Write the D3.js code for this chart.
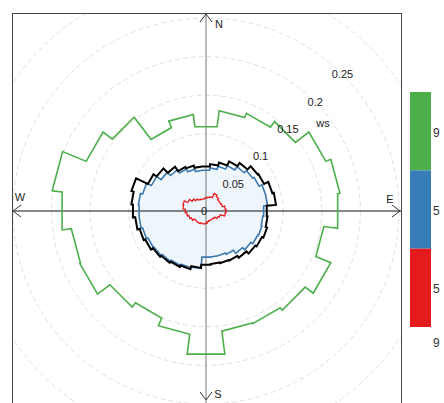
<!DOCTYPE html>
<html>
<head>
<meta charset="utf-8">
<script src="https://cdn.jsdelivr.net/npm/d3@7"></script>
<style>
  body { margin: 0; background: #fff; }
  svg { display: block; }
</style>
</head>
<body>
<div id="chart"></div>
<script>
const w = 444;
const h = 403;

// radial grid / tick labels
const ringValues = [0.05, 0.1, 0.15, 0.2, 0.25, 0.3];
const tickLabels = ["0", "0.05", "0.1", "0.15", "0.2", "0.25"];
const tickValues = [0, 0.05, 0.1, 0.15, 0.2, 0.25];

// outer line, 15 degree bins starting at N
const greenDirs = d3.range(0, 360, 15);
const greenVals = [0.110, 0.131, 0.137, 0.146, 0.168, 0.175, 0.172, 0.154,
                   0.175, 0.162, 0.158, 0.157, 0.187, 0.161, 0.150, 0.157,
                   0.177, 0.176, 0.188, 0.201, 0.168, 0.153, 0.117, 0.126];

// inner lines, 10 degree bins starting at N
const innerDirs = d3.range(0, 360, 10);
const blackVals = [0.058, 0.061, 0.065, 0.071, 0.076, 0.082, 0.083, 0.089, 0.091,
                   0.079, 0.080, 0.082, 0.080, 0.078, 0.074, 0.071, 0.070, 0.069,
                   0.070, 0.074, 0.078, 0.080, 0.082, 0.084, 0.087, 0.089, 0.092,
                   0.095, 0.097, 0.100, 0.083, 0.078, 0.070, 0.063, 0.061, 0.058];
const blueVals = [0.053, 0.056, 0.060, 0.065, 0.070, 0.074, 0.076, 0.080, 0.080,
                  0.075, 0.074, 0.075, 0.074, 0.071, 0.067, 0.062, 0.060, 0.060,
                  0.060, 0.075, 0.076, 0.078, 0.080, 0.082, 0.083, 0.085, 0.087,
                  0.087, 0.088, 0.085, 0.078, 0.071, 0.065, 0.060, 0.056, 0.053];
const redVals = [0.017, 0.018, 0.019, 0.025, 0.023, 0.021, 0.021, 0.022, 0.025,
                 0.026, 0.025, 0.019, 0.017, 0.014, 0.013, 0.013, 0.013, 0.014,
                 0.016, 0.017, 0.017, 0.018, 0.018, 0.018, 0.021, 0.023, 0.025,
                 0.027, 0.030, 0.031, 0.026, 0.022, 0.019, 0.017, 0.016, 0.016];

// key
const keyColors = ["#4daf4a", "#377eb8", "#e41a1c"];
const keyLabels = ["9", "5", "5", "9"];

const frame = {left: 12, top: 13, right: 401, bottom: 420};
const cx = 206, cy = 211;

const svg = d3.select("#chart")
    .append("svg")
    .attr("width", w)
    .attr("height", h);

svg.append("clipPath").attr("id", "frame-clip")
    .append("rect")
    .attr("x", frame.left).attr("y", frame.top)
    .attr("width", frame.right - frame.left)
    .attr("height", frame.bottom - frame.top);

const r = d3.scaleLinear().domain([0, 0.25]).range([0, 193]);

const plot = svg.append("g").attr("clip-path", "url(#frame-clip)");
const g = plot.append("g").attr("transform", `translate(${cx},${cy})`);

// dashed rings
g.selectAll("circle.ring")
    .data(ringValues)
    .enter()
    .append("circle")
    .attr("class", "ring")
    .attr("r", d => r(d))
    .attr("fill", "none")
    .attr("stroke", "#e0e0e0")
    .attr("stroke-width", 1)
    .attr("stroke-dasharray", "5,3");

// stepped rose path: each bin is flat over its width
function stepped(dirs, vals, width) {
    const pts = [];
    dirs.forEach((d, i) => {
        pts.push([d - width / 2, vals[i]]);
        pts.push([d + width / 2, vals[i]]);
    });
    return d3.lineRadial()
        .angle(p => p[0] * Math.PI / 180)
        .radius(p => r(p[1]))
        .curve(d3.curveLinearClosed)(pts);
}

// light fill under the blue line
g.append("path")
    .attr("d", stepped(innerDirs, blueVals, 10))
    .attr("fill", "#eef6fc")
    .attr("stroke", "none");

// axes
g.append("line")
    .attr("x1", frame.left - cx).attr("x2", frame.right - cx)
    .attr("y1", 0).attr("y2", 0)
    .attr("stroke", "#111").attr("stroke-width", 1);
g.append("line")
    .attr("x1", 0).attr("x2", 0)
    .attr("y1", frame.top - cy).attr("y2", h - cy)
    .attr("stroke", "#777").attr("stroke-width", 1);

// arrow heads
const arrows = [
    [[-6, 9], [0, 1], [6, 9]],
    [[-6, -9], [0, -1], [6, -9]],
    [[9, -6], [1, 0], [9, 6]],
    [[-9, -6], [-1, 0], [-9, 6]]
];
const ends = [[0, frame.top - cy], [0, h - cy - 2], [frame.left - cx, 0], [frame.right - cx, 0]];
arrows.forEach((a, i) => {
    g.append("path")
        .attr("d", d3.line()(a.map(p => [p[0] + ends[i][0], p[1] + ends[i][1]])))
        .attr("fill", "none")
        .attr("stroke", "#333")
        .attr("stroke-width", 1);
});

// rose lines
g.append("path")
    .attr("d", stepped(greenDirs, greenVals, 15))
    .attr("fill", "none")
    .attr("stroke", keyColors[0])
    .attr("stroke-width", 1.6);
g.append("path")
    .attr("d", stepped(innerDirs, blueVals, 10))
    .attr("fill", "none")
    .attr("stroke", "#3b78b0")
    .attr("stroke-width", 1.6);
g.append("path")
    .attr("d", stepped(innerDirs, blackVals, 10))
    .attr("fill", "none")
    .attr("stroke", "#000")
    .attr("stroke-width", 2);
g.append("path")
    .attr("d", stepped(innerDirs, redVals, 10))
    .attr("fill", "none")
    .attr("stroke", keyColors[2])
    .attr("stroke-width", 1.3);

// tick labels along the 45 degree line
g.selectAll("text.tick")
    .data(tickValues)
    .enter()
    .append("text")
    .attr("class", "tick")
    .attr("x", d => r(d) * Math.SQRT1_2 - (d === 0 ? 2 : 0))
    .attr("y", d => -r(d) * Math.SQRT1_2 + 1)
    .attr("text-anchor", "middle")
    .attr("dominant-baseline", "middle")
    .attr("font-family", "Liberation Sans, Arial, sans-serif")
    .attr("font-size", "11px")
    .attr("fill", "#222")
    .text((d, i) => tickLabels[i]);

g.append("text")
    .attr("x", 117).attr("y", -87)
    .attr("text-anchor", "middle")
    .attr("dominant-baseline", "middle")
    .attr("font-family", "Liberation Sans, Arial, sans-serif")
    .attr("font-size", "11px")
    .attr("fill", "#222")
    .text("ws");

// compass letters
const compass = [["N", 13, -186], ["S", 12, 184], ["W", -186, -13], ["E", 184, -11]];
g.selectAll("text.compass")
    .data(compass)
    .enter()
    .append("text")
    .attr("class", "compass")
    .attr("x", d => d[1]).attr("y", d => d[2])
    .attr("text-anchor", "middle")
    .attr("dominant-baseline", "middle")
    .attr("font-family", "Liberation Sans, Arial, sans-serif")
    .attr("font-size", "11px")
    .attr("fill", "#222")
    .text(d => d[0]);

// frame
svg.append("rect")
    .attr("x", frame.left + 0.5).attr("y", frame.top + 0.5)
    .attr("width", frame.right - frame.left)
    .attr("height", frame.bottom - frame.top)
    .attr("fill", "none")
    .attr("stroke", "#444")
    .attr("stroke-width", 1);

// key
const ky = d3.scaleLinear().domain([0, 3]).range([92, 327]);
svg.selectAll("rect.key")
    .data(keyColors)
    .enter()
    .append("rect")
    .attr("class", "key")
    .attr("x", 410)
    .attr("y", (d, i) => ky(i))
    .attr("width", 21)
    .attr("height", ky(1) - ky(0))
    .attr("fill", d => d);

const labelY = [134, 212, 290, 344];
svg.selectAll("text.key")
    .data(keyLabels)
    .enter()
    .append("text")
    .attr("class", "key")
    .attr("x", 433)
    .attr("y", (d, i) => labelY[i])
    .attr("dominant-baseline", "middle")
    .attr("font-family", "Liberation Sans, Arial, sans-serif")
    .attr("font-size", "12px")
    .attr("fill", "#333")
    .text(d => d);
</script>
</body>
</html>
